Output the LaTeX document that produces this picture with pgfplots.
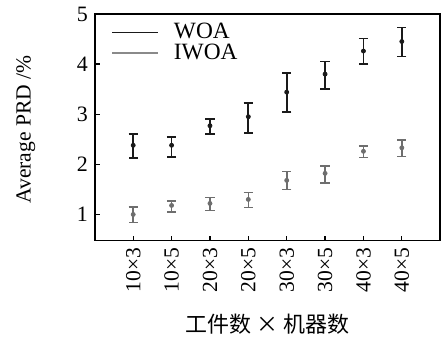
\documentclass[border=0pt]{standalone}
\usepackage{pgfplots}
\pgfplotsset{compat=1.18}
\usepackage{pgfplotstable}
\usepackage{fontspec}
\setmainfont{Liberation Serif}
\newfontfamily\cjk{Noto Sans CJK SC}
\definecolor{woa}{HTML}{1A1A1A}
\definecolor{iwoa}{HTML}{6E6E6E}
\definecolor{iwoaleg}{HTML}{8A8A8A}

\pgfplotstableread{
x y ep em
0 2.38 0.23 0.26
1 2.38 0.17 0.24
2 2.77 0.14 0.16
3 2.95 0.27 0.32
4 3.44 0.38 0.40
5 3.80 0.25 0.29
6 4.26 0.25 0.26
7 4.45 0.28 0.30
}\woadata

\pgfplotstableread{
x y ep em
0 1.00 0.15 0.16
1 1.18 0.09 0.13
2 1.22 0.12 0.14
3 1.30 0.14 0.16
4 1.68 0.18 0.18
5 1.82 0.15 0.19
6 2.26 0.11 0.12
7 2.33 0.15 0.17
}\iwoadata

\begin{document}
\begin{tikzpicture}
\begin{axis}[
  scale only axis,
  width=173pt, height=113.5pt,
  xmin=-1, xmax=8, ymin=0.48, ymax=5,
  xtick={0,...,7},
  xticklabels={10×3,10×5,20×3,20×5,30×3,30×5,40×3,40×5},
  x tick label style={rotate=90, anchor=east, font=\fontsize{10.8}{12}\selectfont},
  ytick={1,2,3,4,5},
  y tick label style={font=\fontsize{11}{12}\selectfont},
  /pgf/number format/assume math mode=true,
  tick pos=left,
  tick align=inside,
  major tick length=2.5pt,
  axis line style={black, line width=0.8pt},
  tick style={black, line width=0.6pt},
  xlabel={\cjk 工件数 × 机器数},
  xlabel style={font=\fontsize{11}{12}\selectfont, yshift=-4pt},
  ylabel={Average PRD /\%},
  ylabel style={at={(axis description cs:-0.2,0.49)}, anchor=center, font=\fontsize{10.8}{12}\selectfont},
  legend style={at={(axis description cs:0.03,0.995)}, anchor=north west, draw=none, fill=none,
    font=\fontsize{11.7}{12}\selectfont, row sep=-3pt},
  legend cell align=left,
  legend image code/.code={\draw[#1] (0cm,0cm) -- (0.8cm,0cm); \path (1.0cm,0cm);},
]
\addlegendimage{woa, line width=0.8pt}
\addlegendentry{WOA}
\addlegendimage{iwoaleg, line width=0.8pt}
\addlegendentry{IWOA}
\addplot[forget plot, only marks, mark=*, mark size=1pt, woa,
  error bars/.cd, y dir=both, y explicit,
  error bar style={line width=0.9pt, woa}, error mark options={rotate=90, mark size=2.3pt, line width=0.9pt, woa}]
  table[x=x, y=y, y error plus=ep, y error minus=em] {\woadata};
\addplot[forget plot, only marks, mark=*, mark size=1pt, iwoa,
  error bars/.cd, y dir=both, y explicit,
  error bar style={line width=0.8pt, iwoa}, error mark options={rotate=90, mark size=2.3pt, line width=0.8pt, iwoa}]
  table[x=x, y=y, y error plus=ep, y error minus=em] {\iwoadata};
\end{axis}
\path ([xshift=-47.5pt,yshift=-51pt]current axis.south west);
\end{tikzpicture}
\end{document}
